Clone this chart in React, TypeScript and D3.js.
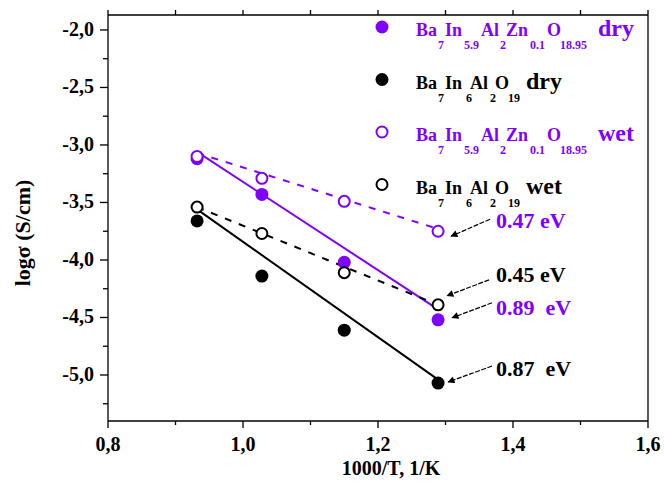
import React from 'react';
import * as d3 from 'd3';

// 1000/T values (1/K) of the four measurements
const invT = [0.932, 1.028, 1.150, 1.289];

// log(sigma), S/cm
const znDry = [-3.12, -3.43, -4.02, -4.52];
const baseDry = [-3.66, -4.14, -4.61, -5.07];
const znWet = [-3.10, -3.29, -3.49, -3.75];
const baseWet = [-3.54, -3.77, -4.11, -4.39];

// linear fits (start / end)
const fitX = [0.932, 1.289];
const znDryFit = [-3.06, -4.43];
const baseDryFit = [-3.56, -5.04];
const znWetFit = [-3.07, -3.73];
const baseWetFit = [-3.54, -4.39];

const xMajor = [0.8, 1.0, 1.2, 1.4, 1.6];
const yMajor = [-2.0, -2.5, -3.0, -3.5, -4.0, -4.5, -5.0];

const energies = ['0.47 eV', '0.45 eV', '0.89  eV', '0.87  eV'];

// formula pieces, element / subscript alternating
const znFormula = ['Ba', '7', 'In', '5.9', 'Al', '2', 'Zn', '0.1', 'O', '18.95'];
const baseFormula = ['Ba', '7', 'In', '6', 'Al', '2', 'O', '19'];

const PURPLE = '#8000ff';
const W = 664;
const H = 490;

const fmt = (v: number) => (v < 0 ? '-' : '') + Math.abs(v).toFixed(1).replace('.', ',');

// horizontal offsets of formula pieces, as set in the figure
const znOffsets = [0, 22, 29, 48, 65, 84, 90, 114, 131, 144, 182];
const baseOffsets = [0, 22, 29, 50, 54, 74, 79, 92, 110];

function Formula({ x, y, color, parts, offsets, tail }: any) {
  return (
    <g fill={color} fontFamily="'Liberation Serif', serif" fontWeight="bold">
      {parts.map((p: string, i: number) => (
        i % 2 === 0
          ? <text key={i} x={x + offsets[i]} y={y} fontSize={18}>{p}</text>
          : <text key={i} x={x + offsets[i]} y={y + 13} fontSize={12}>{p}</text>
      ))}
      <text x={x + offsets[parts.length]} y={y} fontSize={24}>{tail}</text>
    </g>
  );
}

export default function App() {
  const x = d3.scaleLinear().domain([0.8, 1.6]).range([108, 648]);
  const y = d3.scaleLinear().domain([-5.4, -1.87]).range([421, 15]);

  const xMinor = d3.range(0.9, 1.6, 0.2);
  const xAll = d3.range(0.8, 1.601, 0.1);
  const yMinor = d3.range(-2.25, -5.4, -0.5);

  const line = d3.line<number>().x((d, i) => x(fitX[i])).y(d => y(d));

  const series = [
    { vals: znDry, color: PURPLE, open: false },
    { vals: baseDry, color: '#000', open: false },
    { vals: znWet, color: PURPLE, open: true },
    { vals: baseWet, color: '#000', open: true },
  ];

  const fits = [
    { vals: znDryFit, color: PURPLE, dash: undefined },
    { vals: baseDryFit, color: '#000', dash: undefined },
    { vals: znWetFit, color: PURPLE, dash: '7,8' },
    { vals: baseWetFit, color: '#000', dash: '7,8' },
  ];

  const legend = [
    { color: PURPLE, open: false, parts: znFormula, offsets: znOffsets, tail: 'dry' },
    { color: '#000', open: false, parts: baseFormula, offsets: baseOffsets, tail: 'dry' },
    { color: PURPLE, open: true, parts: znFormula, offsets: znOffsets, tail: 'wet' },
    { color: '#000', open: true, parts: baseFormula, offsets: baseOffsets, tail: 'wet' },
  ];

  // arrow annotations at the last point of each series
  const last = invT.length - 1;
  const notes = [
    { text: energies[0], color: PURPLE, v: znWet[last], tip: [13, 5], tail: [52, -12], ty: -3 },
    { text: energies[1], color: '#000', v: baseWet[last], tip: [9, -9], tail: [51, -25], ty: -23 },
    { text: energies[2], color: PURPLE, v: znDry[last], tip: [14, -2], tail: [54, -17], ty: -5 },
    { text: energies[3], color: '#000', v: baseDry[last], tip: [10, -1], tail: [54, -17], ty: -7 },
  ];

  return (
    <svg width={W} height={H} style={{ position: 'absolute', left: 0, top: 0, background: '#fff' }}
      fontFamily="'Liberation Serif', 'Times New Roman', serif" fontWeight="bold">
      <defs>
        <marker id="ah" viewBox="0 0 10 10" refX="9" refY="5" markerWidth="8" markerHeight="7"
          orient="auto" markerUnits="userSpaceOnUse">
          <path d="M0,0 L10,5 L0,10 z" fill="#000" />
        </marker>
      </defs>

      {/* frame */}
      <g stroke="#000" strokeWidth={1.3} fill="none">
        <line x1={x(0.8)} x2={x(0.8)} y1={y(-1.87)} y2={y(-5.4)} />
        <line x1={x(0.8)} x2={x(1.6)} y1={y(-5.4)} y2={y(-5.4)} />
        <line x1={x(0.8)} x2={x(1.6)} y1={y(-1.87)} y2={y(-1.87)} />
        <line x1={x(1.6)} x2={x(1.6)} y1={y(-1.87)} y2={y(-5.4)} />
        {xMajor.map(v => <line key={'xm' + v} x1={x(v)} x2={x(v)} y1={421} y2={428} />)}
        {xMinor.map(v => <line key={'xn' + v} x1={x(v)} x2={x(v)} y1={421} y2={425} />)}
        {xAll.map(v => <line key={'xt' + v} x1={x(v)} x2={x(v)} y1={15} y2={10} />)}
        {yMajor.map(v => <line key={'ym' + v} x1={108} x2={100} y1={y(v)} y2={y(v)} />)}
        {yMinor.map(v => <line key={'yn' + v} x1={108} x2={103} y1={y(v)} y2={y(v)} />)}
      </g>

      {xMajor.map(v => (
        <text key={'xl' + v} x={x(v)} y={451} textAnchor="middle" fontSize={20}>{fmt(v)}</text>
      ))}
      {yMajor.map(v => (
        <text key={'yl' + v} x={94} y={y(v) + 6} textAnchor="end" fontSize={20}>{fmt(v)}</text>
      ))}
      <text x={391} y={475} textAnchor="middle" fontSize={20}>1000/T, 1/K</text>
      <text transform="translate(30,233) rotate(-90)" textAnchor="middle" fontSize={22}>
        logσ (S/cm)
      </text>

      {/* fit lines */}
      {fits.map((f, i) => (
        <path key={'f' + i} d={line(f.vals) || ''} fill="none" stroke={f.color} strokeWidth={2}
          strokeDasharray={f.dash} />
      ))}

      {/* points: filled first, then open with white fill */}
      {series.filter(s => !s.open).map((s, i) =>
        s.vals.map((v, j) => (
          <circle key={'p' + i + j} cx={x(invT[j])} cy={y(v)} r={6.5} fill={s.color} />
        )))}
      {series.filter(s => s.open).map((s, i) =>
        s.vals.map((v, j) => (
          <circle key={'o' + i + j} cx={x(invT[j])} cy={y(v)} r={5.5} fill="#fff" stroke={s.color} strokeWidth={2} />
        )))}

      {/* legend */}
      {legend.map((l, i) => {
        const cy = 27 + i * 52.5;
        return (
          <g key={'lg' + i}>
            {l.open
              ? <circle cx={382} cy={cy} r={5.5} fill="#fff" stroke={l.color} strokeWidth={2} />
              : <circle cx={382} cy={cy} r={6.5} fill={l.color} />}
            <Formula x={416} y={cy + 9} color={l.color} parts={l.parts} offsets={l.offsets} tail={l.tail} />
          </g>
        );
      })}

      {/* activation energies */}
      {notes.map((n, i) => {
        const px = x(invT[last]);
        const py = y(n.v);
        return (
          <g key={'n' + i}>
            <line x1={px + n.tail[0]} y1={py + n.tail[1]} x2={px + n.tip[0]} y2={py + n.tip[1]}
              stroke="#000" strokeWidth={1.2} strokeDasharray="5,1.5" markerEnd="url(#ah)" />
            <text x={px + 58} y={py + n.ty} fill={n.color} fontSize={22} style={{ whiteSpace: 'pre' }}>
              {n.text}
            </text>
          </g>
        );
      })}
    </svg>
  );
}
